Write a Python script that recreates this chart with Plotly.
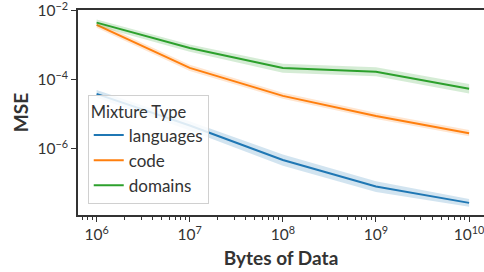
import plotly.graph_objects as go

bytes_of_data = [1e6, 1e7, 1e8, 1e9, 1e10]

languages_mean = [3.9e-5, 4.7e-6, 4.7e-7, 8.1e-8, 2.7e-8]
languages_low = [3.0e-5, 3.4e-6, 3.2e-7, 5.6e-8, 2.1e-8]
languages_high = [5.0e-5, 6.3e-6, 6.8e-7, 1.15e-7, 3.5e-8]

code_mean = [3.9e-3, 2.2e-4, 3.4e-5, 8.9e-6, 2.8e-6]
code_low = [3.2e-3, 1.8e-4, 2.8e-5, 7.3e-6, 2.3e-6]
code_high = [4.8e-3, 2.7e-4, 4.2e-5, 1.1e-5, 3.5e-6]

domains_mean = [4.5e-3, 8.3e-4, 2.2e-4, 1.7e-4, 5.5e-5]
domains_low = [3.6e-3, 6.5e-4, 1.6e-4, 1.25e-4, 4.0e-5]
domains_high = [5.6e-3, 1.05e-3, 2.9e-4, 2.3e-4, 7.5e-5]

x_tick_vals = [1e6, 1e7, 1e8, 1e9, 1e10]
x_tick_text = ["10<sup>6</sup>", "10<sup>7</sup>", "10<sup>8</sup>", "10<sup>9</sup>", "10<sup>10</sup>"]
y_tick_vals = [1e-2, 1e-4, 1e-6]
y_tick_text = ["10<sup>−2</sup>", "10<sup>−4</sup>", "10<sup>−6</sup>"]

series = [
    ("languages", languages_mean, languages_low, languages_high, "#1f77b4", "rgba(31,119,180,0.2)"),
    ("code", code_mean, code_low, code_high, "#ff7f0e", "rgba(255,127,14,0.2)"),
    ("domains", domains_mean, domains_low, domains_high, "#2ca02c", "rgba(44,160,44,0.2)"),
]

fig = go.Figure()
for name, mean, low, high, color, fill in series:
    fig.add_trace(go.Scatter(x=bytes_of_data, y=low, mode="lines", line=dict(width=0),
                             showlegend=False, hoverinfo="skip"))
    fig.add_trace(go.Scatter(x=bytes_of_data, y=high, mode="lines", line=dict(width=0),
                             fill="tonexty", fillcolor=fill, showlegend=False, hoverinfo="skip"))
    fig.add_trace(go.Scatter(x=bytes_of_data, y=mean, mode="lines", name=name,
                             line=dict(color=color, width=2)))

minor_x = [m * 10 ** e for e in range(5, 11) for m in range(2, 10)]

fig.update_layout(
    width=484, height=272,
    margin=dict(l=78, r=0, t=10, b=57),
    paper_bgcolor="white", plot_bgcolor="white",
    font=dict(family="Lato, sans-serif", color="#333", size=15),
    legend=dict(
        title=dict(text="Mixture Type", font=dict(size=16.5)),
        x=0.024, y=0.585, xanchor="left", yanchor="top",
        bgcolor="rgba(255,255,255,0.85)", bordercolor="#d0d0d0", borderwidth=1,
        font=dict(size=17), tracegroupgap=0, itemwidth=30, traceorder="normal",
    ),
    xaxis=dict(
        type="log", range=[5.8, 10.16],
        tickmode="array", tickvals=x_tick_vals, ticktext=x_tick_text,
        ticks="outside", ticklen=5, tickwidth=1.2, tickcolor="#333",
        showline=True, linecolor="#333", linewidth=1.5, mirror=True,
        showgrid=False, zeroline=False, automargin=False,
        ticklabeloverflow="allow",
        tickfont=dict(size=15.5),
        minor=dict(ticks="outside", ticklen=3, tickwidth=0.8, tickcolor="#333",
                   tickmode="array", tickvals=minor_x, showgrid=False),
        title=dict(text="<b>Bytes of Data</b>", font=dict(size=19), standoff=9),
    ),
    yaxis=dict(
        type="log", range=[-7.92, -1.98],
        tickmode="array", tickvals=y_tick_vals, ticktext=y_tick_text,
        ticks="outside", ticklen=5, tickwidth=1.2, tickcolor="#333",
        showline=True, linecolor="#333", linewidth=1.5,
        showgrid=False, zeroline=False, automargin=False,
        ticklabeloverflow="allow",
        tickfont=dict(size=15.5),
        title=dict(text="<b>MSE</b>", font=dict(size=19), standoff=4),
    ),
)

fig.write_html("out.html", config={"displayModeBar": False},
               post_script="document.body.style.margin='0';")
